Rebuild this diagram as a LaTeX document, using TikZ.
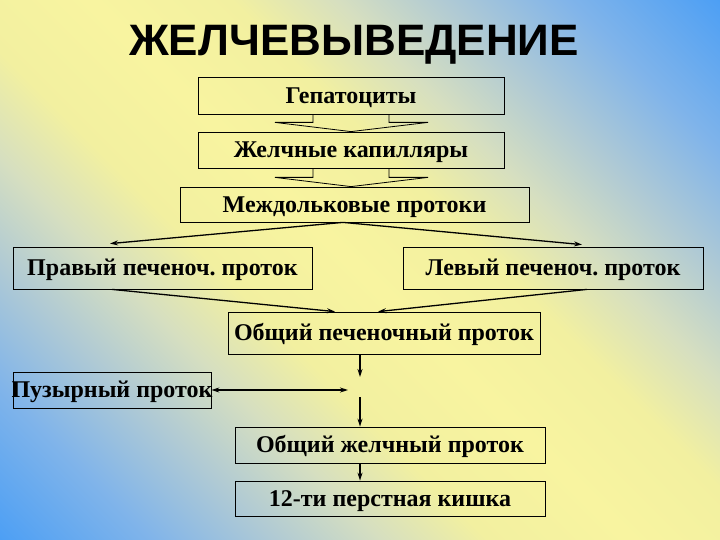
\documentclass[tikz,border=0pt]{standalone}
\usepackage{fontspec}
\setmainfont{Liberation Serif}
\newfontfamily\titlefont{Liberation Sans}
\usetikzlibrary{arrows.meta,calc}
\frenchspacing
\definecolor{blueA}{HTML}{4A9EF5}
\definecolor{blueB}{HTML}{80B4EA}
\definecolor{blueC}{HTML}{B0CAD4}
\definecolor{paleY}{HTML}{D6DFC0}
\definecolor{yelA}{HTML}{F2F0A0}
\definecolor{yelB}{HTML}{F8F4A0}
\pgfdeclareverticalshading{slidebg}{100bp}{color(0bp)=(blueA); color(14bp)=(blueA); color(23bp)=(blueB); color(30bp)=(blueC); color(36bp)=(paleY); color(42bp)=(yelA); color(50bp)=(yelB); color(58bp)=(yelA); color(64bp)=(paleY); color(70bp)=(blueC); color(77bp)=(blueB); color(86bp)=(blueA); color(100bp)=(blueA)}
\tikzset{
  box/.style={draw, line width=0.8pt, inner sep=0pt, text height=15.9pt, text depth=0pt,
    font=\fontsize{24}{28}\selectfont\bfseries},
  flow/.style={-{Stealth[length=8pt,width=5pt]}, line width=1.3pt},
  chevron/.style={line width=0.8pt}
}
\begin{document}
\begin{tikzpicture}[x=1pt,y=-1pt]
\useasboundingbox (0,0) rectangle (720,540);
\shade[shading=slidebg, shading angle=-45] (0,0) rectangle (720,540);
\node[font=\titlefont\fontsize{44}{50}\selectfont\bfseries, inner sep=0pt, text height=31.5pt, text depth=0pt] (ttl) at (354,39.5) {ЖЕЛЧЕВЫВЕДЕНИЕ};
% boxes
\node[box, minimum width=306pt, minimum height=37pt] (hep) at (351,95.5) {Гепатоциты};
\node[box, minimum width=306pt, minimum height=36pt] (cap) at (351,150) {Желчные капилляры};
\node[box, minimum width=349pt, minimum height=35pt] (ilob) at (354.5,204.5) {Междольковые протоки};
\node[box, minimum width=299pt, minimum height=42pt] (rhd) at (162.5,268) {Правый печеноч. проток};
\node[box, minimum width=300pt, minimum height=42pt] (lhd) at (553,268) {Левый печеноч. проток};
\node[box, minimum width=312pt, minimum height=42pt] (chd) at (384,333) {Общий печеночный проток};
\node[box, minimum height=36pt] (cyst) at (112,390) {\makebox[198pt]{Пузырный проток}};
\node[box, minimum width=310pt, minimum height=36pt] (cbd) at (390,445) {Общий желчный проток};
\node[box, minimum width=310pt, minimum height=35pt] (duo) at (390,498.5) {12-ти перстная кишка};
\coordinate (jtop) at (360,377);
\coordinate (jmid) at (348,390);
\coordinate (jbot) at (360,397);
% wide arrows
\draw[chevron] ($(hep.south)+(-38,0)$) -- ++(0,8) -- ++(-38,0) -- (cap.north) -- ($(hep.south)+(77,8)$) -- ++(-39,0) -- ++(0,-8);
\draw[chevron] ($(cap.south)+(-38,0)$) -- ++(0,9) -- ++(-38,0) -- ($(ilob.north)+(-3.5,0)$) -- ($(cap.south)+(77,9)$) -- ++(-39,0) -- ++(0,-9);
% thin arrows
\draw[flow] ($(ilob.south)+(-11.5,0)$) -- ($(rhd.north)+(-52.5,-3)$);
\draw[flow] ($(ilob.south)+(-11.5,0)$) -- ($(lhd.north)+(29,-2)$);
\draw[flow] ($(rhd.south)+(-50.5,0)$) -- ($(chd.north)+(-49,0)$);
\draw[flow] ($(lhd.south)+(34,0)$) -- ($(chd.north)+(-6,0)$);
\draw[flow] ($(chd.south)+(-24,0)$) -- (jtop);
\draw[{Stealth[length=8pt,width=5pt]}-{Stealth[length=8pt,width=5pt]}, line width=1.3pt] (cyst.east) -- (jmid);
\draw[flow] (jbot) -- ($(cbd.north)+(-30,0)$);
\draw[flow] ($(cbd.south)+(-30,0)$) -- ($(duo.north)+(-30,0)$);
\end{tikzpicture}
\end{document}
